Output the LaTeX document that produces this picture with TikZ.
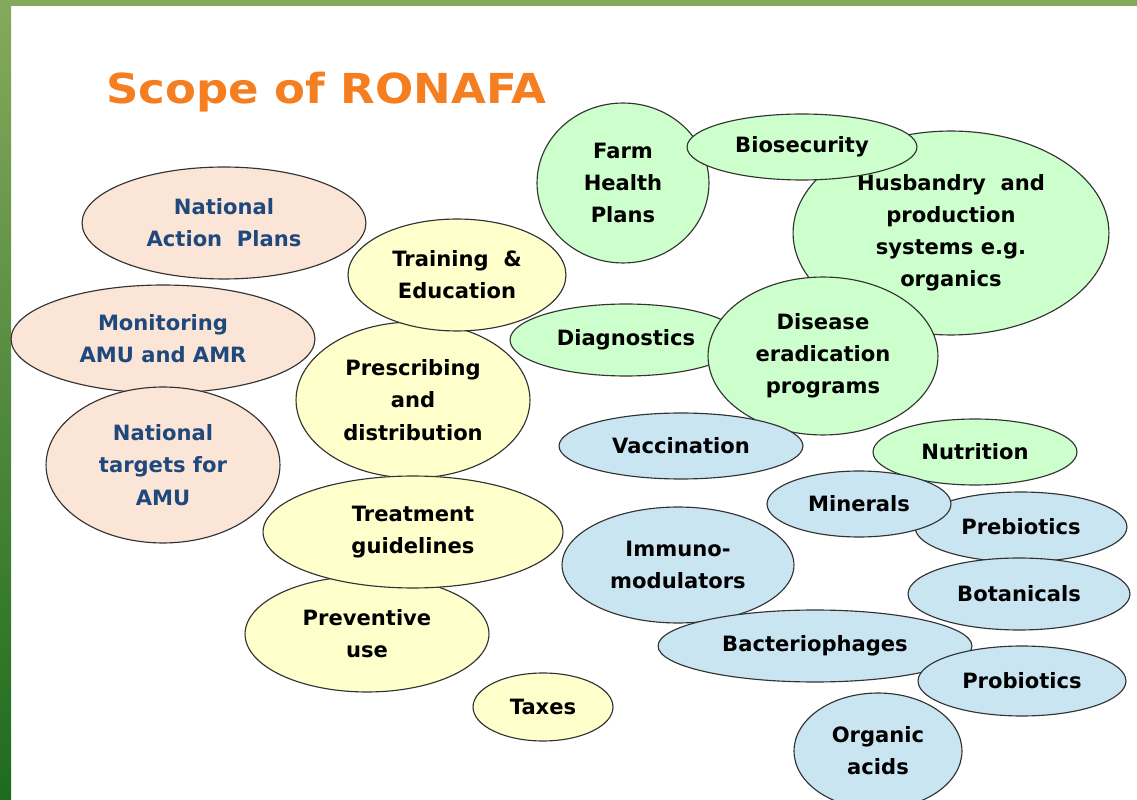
\documentclass[tikz,border=0pt]{standalone}
\usepackage{fontspec}
\setmainfont{DejaVu Sans}
\usepackage{xcolor}
\usetikzlibrary{shapes.geometric}
\definecolor{framegreen}{HTML}{86A95C}
\definecolor{framedark}{HTML}{1E6B1E}
\definecolor{titleorange}{HTML}{F47E20}
\definecolor{peach}{HTML}{FBE5D6}
\definecolor{paleyellow}{HTML}{FFFFCC}
\definecolor{palegreen}{HTML}{CCFFCC}
\definecolor{paleblue}{HTML}{C9E5F1}
\definecolor{navytext}{HTML}{1F497D}
\definecolor{rimgray}{HTML}{333333}
\tikzset{
	bub/.style 2 args={
			ellipse, draw=rimgray, line width=0.65pt, inner sep=0pt, align=center,
			font=\fontsize{12}{18.3}\selectfont\bfseries,
			minimum width=#1*0.04cm, minimum height=#2*0.04cm
		},
	policy/.style={fill=peach, text=navytext},
	usage/.style={fill=paleyellow},
	herd/.style={fill=palegreen},
	alt/.style={fill=paleblue}
}

\begin{document}
\begin{tikzpicture}[x=0.02cm, y=-0.02cm]
        \useasboundingbox (0,0) rectangle (1137,800);
        \clip (0,0) rectangle (1137,800);
        % Rahmen zeichnen
        \fill[white] (0,0) rectangle (1137,800);
        \fill[framegreen] (0,0) rectangle (1137,6);
        \shade[top color=framegreen, bottom color=framedark] (0,0) rectangle (11,800);
        % Titel
        \node[anchor=base west, inner sep=0pt, text=titleorange, xscale=1.09, transform shape,
            font=\fontsize{23.5}{28}\selectfont\bfseries] (title) at (106,104) {Scope of RONAFA};
        % Politik
        \node[bub={142}{56}, policy] (nap) at (224,223) {National\\Action\ \ Plans};
        \node[bub={152}{54}, policy] (mon) at (163,339) {Monitoring\\AMU and AMR};
        \node[bub={117}{78}, policy] (ntg) at (163,465) {National\\targets for\\AMU};
        % Einsatz
        \node[bub={117}{78}, usage] (presc) at (413,400) {Prescribing\\and\\distribution};
        \node[bub={109}{56}, usage] (train) at (457,275) {Training\ \ \&\\Education};
        \node[bub={122}{58}, usage] (prev) at (367,634) {Preventive\\use};
        \node[bub={150}{56}, usage] (treat) at (413,532) {Treatment\\guidelines};
        \node[bub={70}{34}, usage] (taxes) at (543,707) {Taxes};
        % Tierhaltung
        \node[bub={86}{80}, herd] (fhp) at (623,183) {Farm\\Health\\Plans};
        \node[bub={158}{102}, herd] (husb) at (951,233) {Husbandry\ \ and\\production\\systems e.g.\\organics};
        \node[bub={115}{33}, herd] (bios) at (802,147) {Biosecurity};
        \node[bub={116}{36}, herd] (diag) at (626,340) {Diagnostics};
        \node[bub={115}{79}, herd] (dis) at (823,356) {Disease\\eradication\\programs};
        \node[bub={102}{33}, herd] (nutr) at (975,452) {Nutrition};
        % Alternativen
        \node[bub={122}{33}, alt] (vacc) at (681,446) {Vaccination};
        \node[bub={106}{35}, alt] (preb) at (1021,527) {Prebiotics};
        \node[bub={92}{33}, alt] (minr) at (859,504) {Minerals};
        \node[bub={111}{36}, alt] (bota) at (1019,594) {Botanicals};
        \node[bub={116}{58}, alt] (imm) at (678,565) {Immuno-\\modulators};
        \node[bub={157}{36}, alt] (bact) at (815,646) {Bacteriophages};
        \node[bub={104}{35}, alt] (prob) at (1022,681) {Probiotics};
        \node[bub={84}{58}, alt] (orga) at (878,751) {Organic\\acids};
    \end{tikzpicture}
\end{document}
